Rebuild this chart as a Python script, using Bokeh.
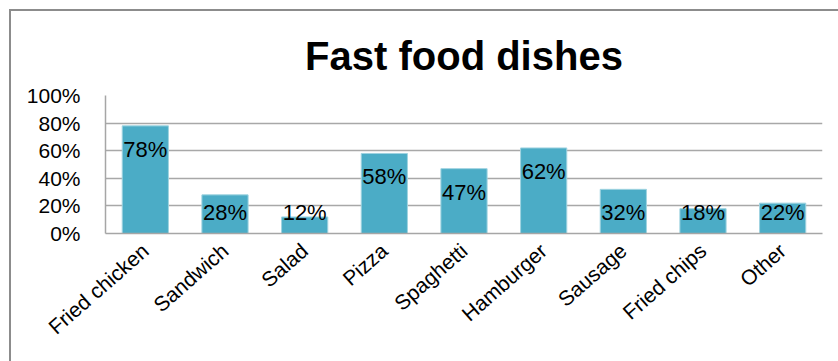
from bokeh.plotting import figure
from bokeh.models import ColumnDataSource, LabelSet, Range1d, FixedTicker
from bokeh.core.properties import value
from bokeh.embed import file_html
from bokeh.resources import INLINE

categories = ["Fried chicken", "Sandwich", "Salad", "Pizza", "Spaghetti",
              "Hamburger", "Sausage", "Fried chips", "Other"]
values = [78, 28, 12, 58, 47, 62, 32, 18, 22]
y_ticks = [0, 20, 40, 60, 80, 100]
y_tick_labels = ["0%", "20%", "40%", "60%", "80%", "100%"]

label_y = [max(v - 17, 15) for v in values]
src = ColumnDataSource(dict(cat=categories, val=values, ly=label_y,
                            txt=[f"{v}%" for v in values]))

p = figure(x_range=categories, y_range=Range1d(0, 100), width=829, height=352,
           output_backend="svg", toolbar_location=None,
           min_border_left=94, min_border_right=18, min_border_top=84, min_border_bottom=130)
p.margin = (9, 0, 0, 9)
p.styles = {"border-top": "2px solid #8c8c8c", "border-left": "2px solid #8c8c8c"}

p.vbar(x="cat", top="val", width=0.58, source=src, fill_color="#4bacc6",
       line_color="#9fd3e0", line_width=1)

labels = LabelSet(x="cat", y="ly", text="txt", source=src, text_align="center",
                  text_baseline="middle", text_font_size=value("22px"),
                  text_font=value("Liberation Sans"), text_color="#000000")
p.add_layout(labels)

p.title.text = "Fast food dishes"
p.title.text_font = "Liberation Sans"
p.title.text_font_size = "40px"
p.title.text_font_style = "bold"
p.title.text_color = "#000000"
p.title.align = "center"
p.title.offset = -16
p.title.standoff = 36

p.outline_line_color = None
p.xgrid.grid_line_color = None
p.ygrid.ticker = FixedTicker(ticks=y_ticks)
p.ygrid.grid_line_color = "#a8a8a8"
p.ygrid.grid_line_width = 1.5

p.yaxis.ticker = FixedTicker(ticks=y_ticks)
p.yaxis.major_label_overrides = {t: l for t, l in zip(y_ticks, y_tick_labels)}
p.yaxis.major_label_text_font = "Liberation Sans"
p.yaxis.major_label_text_font_size = "21px"
p.yaxis.major_label_text_color = "#000000"
p.yaxis.major_label_standoff = 19
p.yaxis.axis_line_color = "#a6a6a6"
p.yaxis.axis_line_width = 1.5
p.yaxis.major_tick_line_color = None
p.yaxis.minor_tick_line_color = None

p.xaxis.major_label_orientation = 0.72
p.xaxis.major_label_text_font = "Liberation Sans"
p.xaxis.major_label_text_font_size = "21px"
p.xaxis.major_label_text_color = "#000000"
p.xaxis.major_label_standoff = 8
p.xaxis.axis_line_color = "#a6a6a6"
p.xaxis.axis_line_width = 1.5
p.xaxis.major_tick_line_color = None
p.xaxis.minor_tick_line_color = None

p.background_fill_color = "white"
p.border_fill_color = "white"

open("out.html", "w").write(file_html(p, INLINE))
